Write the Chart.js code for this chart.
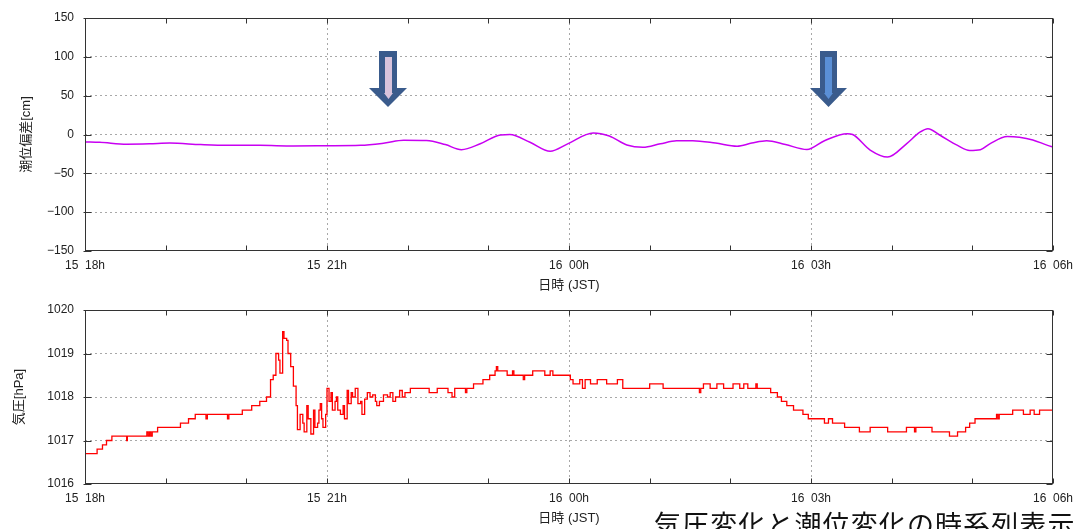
<!DOCTYPE html>
<html>
<head>
<meta charset="utf-8">
<script src="https://cdn.jsdelivr.net/npm/chart.js@4.4.1/dist/chart.umd.min.js"></script>
<style>
  html, body { margin: 0; padding: 0; background: #fff; }
  body { width: 1075px; height: 529px; position: relative; overflow: hidden; }
  #c1 { position: absolute; left: 0; top: 0; }
  #c2 { position: absolute; left: 0; top: 295px; }
  #arrows { position: absolute; left: 0; top: 0; }
  #caption { position: absolute; left: 654px; top: 510px; font-family: "Noto Sans CJK JP", sans-serif;
    font-size: 27px; line-height: 27px; letter-spacing: 1.1px; color: #111; white-space: nowrap; }
</style>
</head>
<body>
<canvas id="c1" width="1075" height="295"></canvas>
<canvas id="c2" width="1075" height="234"></canvas>
<svg id="arrows" width="1075" height="200">
  <g>
    <polygon points="379,51 397,51 397,88 407,88 388,107 369,88 379,88" fill="#3a5b8c"/>
    <polygon points="385,57 392,57 392,93 393,93 388.5,99 384,93 385,93" fill="#d8c3dc"/>
  </g>
  <g>
    <polygon points="820,51 837,51 837,88 847,88 828.5,107 810,88 820,88" fill="#3a5b8c"/>
    <polygon points="825,57 832,57 832,93 833,93 828.5,99 824,93 825,93" fill="#5a8fd6"/>
  </g>
</svg>
<div id="caption">気圧変化と潮位変化の時系列表示</div>
<script>
// ---- data ----
const timeTickLabels = ['15  18h', '15  21h', '16  00h', '16  03h', '16  06h']; // every 180 min from 15 18h
const tideMinutes = [0, 11, 31, 48, 63, 86, 106, 130, 155, 180, 205, 223, 237, 254, 268, 280, 294, 309, 316, 331, 346, 359, 378, 390, 403, 415, 428, 440, 452, 469, 485, 496, 507, 521, 537, 550, 567, 571, 584, 597, 611, 621, 627, 636, 649, 658, 666, 673, 686, 695, 705, 716, 720];
const tideValues  = [-9.5, -10, -12.5, -12, -11, -13, -14, -14, -14.7, -14.5, -14, -11, -7.5, -7.8, -13, -19.5, -12, -0.5, 0, -10, -21.5, -12, 2, -2, -13.5, -16.5, -12, -8.2, -8, -11, -15, -11, -8, -13, -19.3, -8, 1, 0, -20, -29, -12, 3, 7.5, -1, -14, -20.5, -19.5, -12, -2.5, -3.5, -7, -14, -16];

const pressMinutes = [0, 9, 13, 16, 20, 31, 31.5, 46, 47, 48, 49, 50, 54, 71, 77, 82, 90, 91, 106, 107, 117, 124, 130, 135,
  138, 140, 142, 144, 145, 147, 148, 150, 151, 153, 155, 157, 158, 160, 162, 163, 165, 166, 168, 170, 171, 173, 174, 175, 176, 177, 179,
  180, 181.5, 183, 184, 186, 187, 188, 190, 192, 193, 195, 196, 198, 199, 201, 203, 205, 206, 208, 210, 212, 214, 216, 217, 219, 222, 225, 227, 229, 231, 234, 236, 238,
  242, 256, 262, 270, 273, 275, 283, 284, 289, 296, 301, 305, 306, 307, 314, 318, 319, 326, 327, 333, 342, 346, 348, 361, 363, 368, 370, 372, 376, 381, 388, 396, 400,
  420, 430, 457, 458, 460, 465, 470, 475, 482, 487, 490, 493, 499, 500, 510, 515, 518, 522, 527, 534, 538, 550, 553, 556, 565, 576, 584, 597, 611, 617, 618, 630,
  643, 649, 655, 658, 662, 678, 679, 680, 690, 698, 703, 706, 710, 720];
const pressValues = [1016.7, 1016.8, 1016.9, 1017.0, 1017.1, 1017.0, 1017.1, 1017.2, 1017.1, 1017.2, 1017.1, 1017.2, 1017.3, 1017.4, 1017.5, 1017.6, 1017.5, 1017.6, 1017.5, 1017.6, 1017.7, 1017.8, 1017.9, 1018.0,
  1018.4, 1018.5, 1019.0, 1018.85, 1018.55, 1019.5, 1019.35, 1019.3, 1019.0, 1018.7, 1018.25, 1017.8, 1017.25, 1017.6, 1017.4, 1017.2, 1017.8, 1017.5, 1017.15, 1017.7, 1017.3, 1017.4, 1017.7, 1017.85, 1017.5, 1017.3, 1017.6,
  1018.2, 1017.9, 1018.1, 1017.7, 1017.9, 1018.0, 1017.7, 1017.6, 1017.8, 1017.5, 1018.15, 1017.85, 1018.1, 1018.0, 1018.2, 1017.85, 1017.9, 1017.6, 1017.95, 1018.1, 1018.0, 1018.05, 1017.9, 1017.8, 1017.9, 1018.05, 1018.0, 1018.1, 1017.9, 1018.0, 1018.15, 1018.0, 1018.1,
  1018.2, 1018.1, 1018.2, 1018.1, 1018.0, 1018.2, 1018.1, 1018.2, 1018.3, 1018.4, 1018.5, 1018.6, 1018.7, 1018.6, 1018.5, 1018.6, 1018.5, 1018.4, 1018.5, 1018.6, 1018.5, 1018.6, 1018.5, 1018.4, 1018.3, 1018.4, 1018.2, 1018.4, 1018.3, 1018.4, 1018.3, 1018.4, 1018.2,
  1018.3, 1018.2, 1018.1, 1018.2, 1018.3, 1018.2, 1018.3, 1018.2, 1018.3, 1018.2, 1018.3, 1018.2, 1018.3, 1018.2, 1018.1, 1018.0, 1017.9, 1017.8, 1017.7, 1017.6, 1017.5, 1017.4, 1017.5, 1017.4, 1017.3, 1017.2, 1017.3, 1017.2, 1017.3, 1017.2, 1017.3, 1017.2,
  1017.1, 1017.2, 1017.3, 1017.4, 1017.5, 1017.6, 1017.5, 1017.6, 1017.7, 1017.6, 1017.7, 1017.6, 1017.7, 1017.7];

// ---- helpers ----
const FONT = "'Liberation Sans', 'Noto Sans CJK JP', sans-serif";
const GRID = '#a8a8a8';
const AXIS = '#333';

const framePlugin = {
  id: 'frame',
  afterDraw(chart) {
    const { ctx, chartArea: a, scales: { x, y } } = chart;
    ctx.save();
    ctx.strokeStyle = AXIS;
    ctx.lineWidth = 1;
    const L = Math.round(a.left) + 0.5, R = Math.round(a.right) - 0.5;
    const T = Math.round(a.top) + 0.5, B = Math.round(a.bottom) - 0.5;
    ctx.strokeRect(L, T, R - L, B - T);
    ctx.beginPath();
    x.ticks.forEach(t => {
      const px = Math.round(x.getPixelForValue(t.value)) + 0.5;
      ctx.moveTo(px, B); ctx.lineTo(px, B - 5);
      ctx.moveTo(px, T); ctx.lineTo(px, T + 5);
    });
    y.ticks.forEach(t => {
      const py = Math.round(y.getPixelForValue(t.value)) + 0.5;
      ctx.moveTo(L - 2, py); ctx.lineTo(L + 6, py);
      ctx.moveTo(R, py); ctx.lineTo(R - 6, py);
    });
    ctx.stroke();
    ctx.restore();
  }
};

function xScale(xAxisHeight, tickPad, titlePad) {
  return {
    type: 'linear', min: 0, max: 720,
    afterFit: s => { s.height = xAxisHeight; s.paddingLeft = 0; s.paddingRight = 0; },
    ticks: {
      stepSize: 60, autoSkip: false, maxRotation: 0, padding: tickPad,
      color: '#222', font: { family: FONT, size: 12 },
      callback: v => (v % 180 === 0 ? timeTickLabels[v / 180] : '')
    },
    grid: {
      drawTicks: false, lineWidth: 1,
      color: c => (c.tick && c.tick.value % 180 === 0 && c.tick.value > 0 && c.tick.value < 720) ? GRID : 'rgba(0,0,0,0)'
    },
    border: { display: false, dash: [2, 3] },
    title: { display: true, text: '日時 (JST)', color: '#222', font: { family: FONT, size: 13 }, padding: { top: 0, bottom: titlePad } }
  };
}

function yScale(min, max, step, titleText, titlePad) {
  return {
    min, max,
    afterFit: s => { s.width = 85; s.paddingTop = 0; s.paddingBottom = 0; },
    ticks: {
      stepSize: step, padding: 11, color: '#222', font: { family: FONT, size: 12 },
      callback: v => String(v).replace('-', '\u2212')
    },
    grid: {
      drawTicks: false, lineWidth: 1,
      color: c => (c.tick && c.tick.value > min && c.tick.value < max) ? GRID : 'rgba(0,0,0,0)'
    },
    border: { display: false, dash: [2, 3] },
    title: { display: true, text: titleText, color: '#222', font: { family: FONT, size: 13 }, padding: { top: titlePad, bottom: 0 } }
  };
}

const common = {
  responsive: false, animation: false,
  plugins: { legend: { display: false }, tooltip: { enabled: false } },
};

new Chart(document.getElementById('c1'), {
  type: 'line',
  data: {
    datasets: [{
      data: tideMinutes.map((m, i) => ({ x: m, y: tideValues[i] })),
      borderColor: '#c800f2', borderWidth: 1.5, pointRadius: 0,
      cubicInterpolationMode: 'monotone', fill: false
    }]
  },
  options: Object.assign({}, common, {
    layout: { padding: { left: 0, right: 22, top: 18, bottom: 0 } },
    scales: { x: xScale(44, 7, 2), y: yScale(-150, 150, 50, '潮位偏差[cm]', 19) }
  }),
  plugins: [framePlugin]
});

new Chart(document.getElementById('c2'), {
  type: 'line',
  data: {
    datasets: [{
      data: pressMinutes.map((m, i) => ({ x: m, y: pressValues[i] })),
      borderColor: '#ff0000', borderWidth: 1.3, pointRadius: 0,
      stepped: true, fill: false
    }]
  },
  options: Object.assign({}, common, {
    layout: { padding: { left: 0, right: 22, top: 15, bottom: 0 } },
    scales: { x: xScale(45, 7, 3), y: yScale(1016, 1020, 1, '気圧[hPa]', 12) }
  }),
  plugins: [framePlugin]
});
</script>
</body>
</html>
